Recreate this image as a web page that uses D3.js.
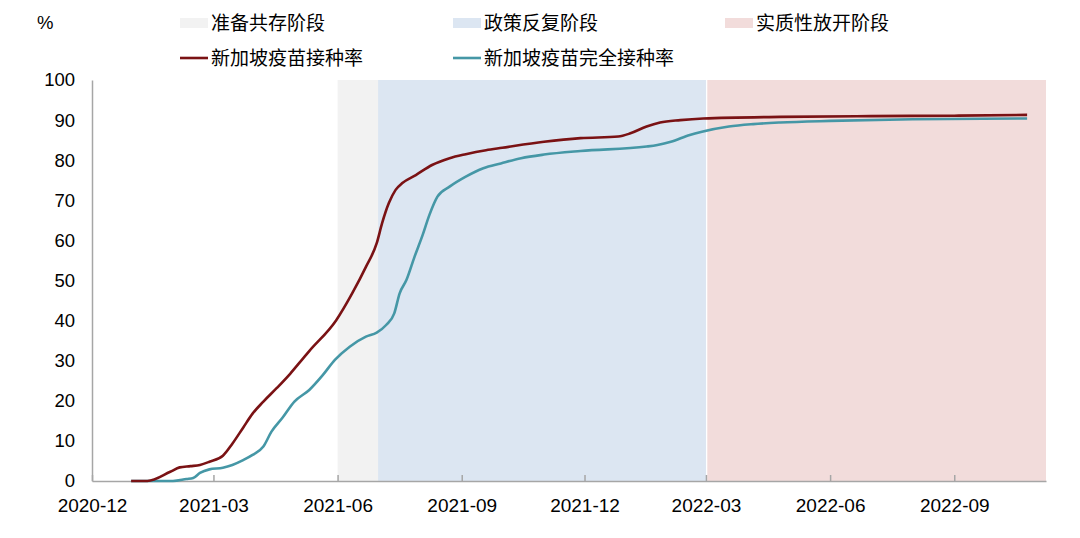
<!DOCTYPE html>
<html><head><meta charset="utf-8">
<script src="https://cdn.jsdelivr.net/npm/d3@7"></script>
<style>body{margin:0;background:#fff}svg{display:block}</style>
</head><body><svg id="c" width="1080" height="538"></svg>
<script>
// ---- data ----
const firstDoseDates = ["2020-12-30","2021-01-11","2021-01-28","2021-02-04","2021-02-12","2021-02-19","2021-02-26","2021-03-08","2021-03-15","2021-03-23","2021-03-30","2021-04-07","2021-04-17","2021-04-27","2021-05-06","2021-05-11","2021-05-31","2021-06-12","2021-06-22","2021-06-30","2021-07-04","2021-07-09","2021-07-14","2021-07-19","2021-07-29","2021-08-10","2021-08-23","2021-09-04","2021-09-19","2021-10-01","2021-11-01","2021-11-28","2021-12-26","2022-01-04","2022-01-16","2022-01-26","2022-02-10","2022-02-27","2022-04-25","2022-07-01","2022-09-01","2022-10-25"];
const firstDoseValues = [0,0,2.3,3.4,3.7,4.0,4.8,6.3,9.3,13.3,16.8,19.8,23.2,26.8,30.4,32.4,40.1,46.9,53.4,59.3,64.3,69.3,72.6,74.3,76.3,78.8,80.5,81.5,82.5,83.1,84.6,85.5,85.9,86.7,88.4,89.4,90.0,90.4,90.8,91.0,91.1,91.3];
const fullDates = ["2020-12-30","2021-01-30","2021-02-09","2021-02-14","2021-02-19","2021-02-26","2021-03-08","2021-03-15","2021-03-23","2021-03-30","2021-04-07","2021-04-13","2021-04-21","2021-04-30","2021-05-11","2021-05-21","2021-05-30","2021-06-10","2021-06-22","2021-06-30","2021-07-07","2021-07-13","2021-07-17","2021-07-22","2021-07-28","2021-08-03","2021-08-08","2021-08-14","2021-08-23","2021-09-04","2021-09-17","2021-09-30","2021-10-15","2021-11-01","2021-11-28","2022-01-16","2022-01-24","2022-02-03","2022-02-17","2022-02-26","2022-03-18","2022-04-05","2022-04-25","2022-06-01","2022-08-01","2022-10-25"];
const fullValues = [0,0,0.5,0.75,2.0,2.9,3.3,4.0,5.2,6.5,8.6,12.3,15.7,19.8,22.7,26.4,30.2,33.5,36.0,37.0,38.9,41.8,46.8,50.1,55.9,61.3,66.3,70.9,73.4,75.9,78.0,79.2,80.5,81.4,82.3,83.4,83.8,84.6,86.3,87.1,88.4,89.0,89.4,89.8,90.2,90.4];
const phaseNames = ["准备共存阶段","政策反复阶段","实质性放开阶段"];
const phaseStarts = ["2021-06-01","2021-07-01","2022-03-02"];
const phaseEnds = ["2021-07-01","2022-03-01","2022-11-08"];
const phaseColors = ["#f2f2f2","#dce6f2","#f2dcdb"];
const seriesNames = ["新加坡疫苗接种率","新加坡疫苗完全接种率"];
const seriesColors = ["#7a1214","#4597a6"];
const xTickLabels = ["2020-12","2021-03","2021-06","2021-09","2021-12","2022-03","2022-06","2022-09"];
const yTicks = [0,10,20,30,40,50,60,70,80,90,100];

// ---- chart ----
const p = d3.timeParse("%Y-%m-%d");
const pm = d3.timeParse("%Y-%m");
const svg = d3.select("#c");
const L=92, R=1046, T=80, B=481;
const x = d3.scaleTime().domain([p("2020-12-01"), p("2022-11-08")]).range([L,R]);
const y = d3.scaleLinear().domain([0,100]).range([B,T]);
const cjk = "'Noto Sans CJK SC','Liberation Sans',sans-serif";
const lat = "'Liberation Sans',Arial,sans-serif";

// phase shading
svg.append("g").selectAll("rect").data(phaseNames).join("rect")
  .attr("x",(d,i)=>x(p(phaseStarts[i])))
  .attr("width",(d,i)=>x(p(phaseEnds[i]))-x(p(phaseStarts[i])))
  .attr("y",y(100)).attr("height",y(0)-y(100))
  .attr("fill",(d,i)=>phaseColors[i]);

// axes
const xa = svg.append("g").attr("transform",`translate(0,${B})`)
  .call(d3.axisBottom(x).tickValues(xTickLabels.map(pm)).tickFormat(d3.timeFormat("%Y-%m")).tickSizeInner(-6).tickSizeOuter(0).tickPadding(18));
xa.select(".domain").attr("stroke","#a6a6a6").attr("stroke-width",1.5);
xa.selectAll(".tick line").attr("stroke","#a6a6a6").attr("stroke-width",1.5);
xa.selectAll("text").attr("font-family",lat).attr("font-size",19).attr("fill","#000");

const ya = svg.append("g").attr("transform",`translate(${L},0)`)
  .call(d3.axisLeft(y).tickValues(yTicks).tickSize(0).tickPadding(17));
ya.select(".domain").attr("stroke","#a6a6a6").attr("stroke-width",1.5);
ya.selectAll("text").attr("font-family",lat).attr("font-size",18.5).attr("fill","#000");

svg.append("text").attr("x",37).attr("y",29).text("%")
  .attr("font-family",lat).attr("font-size",18.5);

// lines
const line = d3.line().x(d=>x(d[0])).y(d=>y(d[1])).curve(d3.curveMonotoneX);
const s1 = firstDoseDates.map((d,i)=>[p(d),firstDoseValues[i]]);
const s2 = fullDates.map((d,i)=>[p(d),fullValues[i]]);
svg.append("path").datum(s2).attr("d",line).attr("fill","none").attr("stroke",seriesColors[1]).attr("stroke-width",2.6);
svg.append("path").datum(s1).attr("d",line).attr("fill","none").attr("stroke",seriesColors[0]).attr("stroke-width",2.6);

// legend
const legX = [180,453,725];
const lg = svg.append("g");
phaseNames.forEach((n,i)=>{
  lg.append("rect").attr("x",legX[i]).attr("y",18).attr("width",28).attr("height",10).attr("fill",phaseColors[i]);
  lg.append("text").attr("x",legX[i]+31).attr("y",30).text(n).attr("font-family",cjk).attr("font-size",19).attr("fill","#000");
});
seriesNames.forEach((n,i)=>{
  lg.append("line").attr("x1",legX[i]).attr("x2",legX[i]+28).attr("y1",58).attr("y2",58).attr("stroke",seriesColors[i]).attr("stroke-width",2.6);
  lg.append("text").attr("x",legX[i]+31).attr("y",65).text(n).attr("font-family",cjk).attr("font-size",19).attr("fill","#000");
});
</script></body></html>
